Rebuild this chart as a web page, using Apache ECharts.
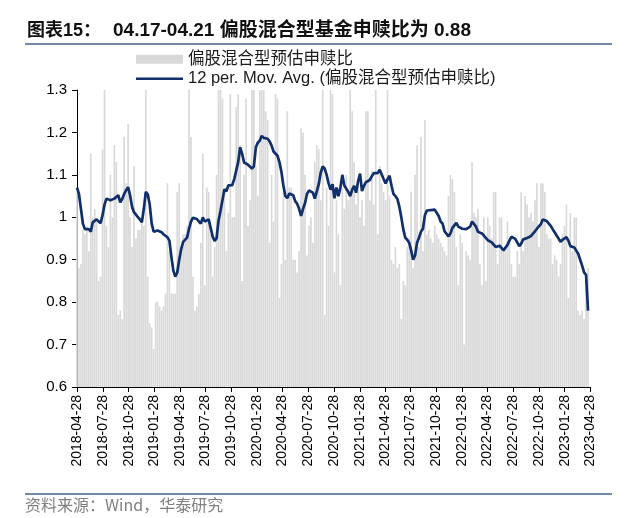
<!DOCTYPE html>
<html>
<head>
<meta charset="utf-8">
<script src="https://cdn.jsdelivr.net/npm/echarts@6/dist/echarts.min.js"></script>
<style>
html, body { margin: 0; padding: 0; background: #fff; }
#chart { width: 640px; height: 518px; }
</style>
</head>
<body>
<div id="chart"></div>
<script>
// 周度数据，2018-04-27 起每周五一个点
var firstWeek = [2018, 3, 27];
var weekCount = 261;

var tickLabels = ['2018-04-28', '2018-07-28', '2018-10-28', '2019-01-28', '2019-04-28', '2019-07-28',
	'2019-10-28', '2020-01-28', '2020-04-28', '2020-07-28', '2020-10-28', '2021-01-28', '2021-04-28',
	'2021-07-28', '2021-10-28', '2022-01-28', '2022-04-28', '2022-07-28', '2022-10-28', '2023-01-28',
	'2023-04-28'];

// 偏股混合型预估申赎比（柱）
var ratioValues = [
	1.06, 0.88, 0.89, 0.97, 0.96, 0.98, 0.92, 1.15, 1.00, 1.02,
	0.99, 0.85, 0.86, 1.16, 1.30, 0.98, 0.93, 1.10, 1.00, 1.17,
	1.13, 0.77, 0.78, 0.76, 1.19, 1.08, 1.22, 1.00, 0.93, 1.12,
	0.95, 0.97, 0.97, 1.00, 0.98, 1.30, 0.86, 0.75, 0.74, 0.69,
	0.80, 0.80, 0.79, 0.78, 0.79, 0.82, 1.08, 0.92, 0.82, 0.82,
	0.82, 1.06, 1.08, 0.93, 0.96, 0.96, 0.98, 1.30, 1.19, 0.86,
	0.78, 0.79, 0.82, 0.94, 1.15, 0.84, 1.07, 1.06, 0.96, 0.86,
	0.93, 1.10, 1.30, 1.30, 1.28, 1.06, 0.92, 1.01, 1.29, 1.00,
	1.00, 1.26, 1.29, 1.17, 0.85, 1.10, 1.28, 0.98, 1.04, 1.30,
	1.30, 1.12, 1.05, 1.30, 1.30, 1.30, 1.25, 1.23, 0.94, 1.10,
	0.99, 1.29, 1.28, 0.81, 0.89, 1.06, 0.90, 1.25, 1.07, 1.07,
	0.90, 0.90, 0.87, 0.92, 1.21, 1.20, 1.10, 0.91, 0.98, 1.00,
	0.94, 1.13, 1.17, 1.16, 1.04, 1.30, 0.77, 1.07, 0.98, 1.30,
	1.29, 0.87, 1.04, 0.96, 0.84, 1.07, 1.02, 1.10, 1.04, 1.30,
	1.25, 1.13, 1.03, 1.08, 1.00, 1.04, 0.98, 1.25, 1.25, 1.04,
	1.11, 1.03, 1.30, 0.96, 1.12, 1.08, 1.06, 1.04, 1.30, 1.05,
	0.90, 0.89, 0.93, 0.88, 0.89, 0.76, 0.85, 0.84, 0.93, 0.95,
	1.06, 0.88, 1.10, 1.17, 0.93, 1.19, 0.92, 1.23, 0.96, 0.97,
	0.95, 0.94, 0.98, 0.96, 0.95, 0.94, 0.93, 0.92, 0.91, 1.05,
	1.10, 1.09, 1.06, 0.93, 0.84, 0.96, 0.94, 0.70, 0.92, 0.91,
	0.90, 1.13, 1.01, 1.00, 1.02, 0.89, 0.84, 1.00, 0.85, 1.00,
	0.98, 0.95, 1.06, 1.06, 0.89, 1.00, 1.00, 0.92, 0.92, 0.99,
	0.94, 0.89, 0.86, 0.86, 0.92, 0.89, 1.06, 0.92, 1.05, 1.03,
	1.00, 1.01, 0.99, 1.04, 1.08, 0.93, 1.08, 1.08, 1.06, 0.96,
	0.95, 0.95, 0.89, 0.91, 0.90, 0.86, 0.89, 0.96, 0.98, 1.03,
	0.81, 1.01, 0.92, 1.00, 1.00, 0.78, 0.77, 0.78, 0.76, 0.86,
	0.88
];

// 12 per. Mov. Avg.（线，按图读数）
var avgValues = [
	1.070, 1.055, 1.020, 0.985, 0.972, 0.968, 0.972, 0.966, 0.988, 0.992,
	0.995, 0.996, 0.986, 1.005, 1.030, 1.044, 1.043, 1.040, 1.038, 1.044,
	1.040, 1.052, 1.035, 1.043, 1.055, 1.064, 1.071, 1.052, 1.025, 1.012,
	1.008, 1.000, 0.995, 0.988, 1.020, 1.060, 1.054, 1.030, 0.985, 0.966,
	0.968, 0.969, 0.967, 0.965, 0.960, 0.956, 0.953, 0.945, 0.908, 0.875,
	0.860, 0.870, 0.900, 0.925, 0.942, 0.944, 0.952, 0.973, 0.990, 0.999,
	0.997, 0.996, 0.990, 0.985, 1.000, 0.990, 0.994, 0.995, 0.975, 0.955,
	0.944, 0.950, 0.992, 1.015, 1.040, 1.066, 1.061, 1.075, 1.078, 1.076,
	1.090, 1.110, 1.130, 1.165, 1.150, 1.129, 1.127, 1.124, 1.121, 1.115,
	1.120, 1.165, 1.176, 1.181, 1.192, 1.187, 1.186, 1.185, 1.179, 1.169,
	1.155, 1.153, 1.145, 1.130, 1.107, 1.075, 1.050, 1.045, 1.056, 1.059,
	1.052, 1.038, 1.032, 1.020, 1.003, 1.020, 1.033, 1.055, 1.063, 1.060,
	1.058, 1.044, 1.045, 1.078, 1.105, 1.120, 1.115, 1.100, 1.080, 1.065,
	1.078, 1.045, 1.070, 1.050, 1.070, 1.100, 1.075, 1.071, 1.060, 1.050,
	1.065, 1.074, 1.058, 1.085, 1.103, 1.062, 1.074, 1.083, 1.087, 1.088,
	1.097, 1.104, 1.107, 1.104, 1.112, 1.108, 1.090, 1.080, 1.090, 1.098,
	1.075, 1.055, 1.050, 1.043, 1.025, 1.000, 0.972, 0.952, 0.947, 0.940,
	0.922, 0.900, 0.910, 0.940, 0.952, 0.966, 0.973, 1.005, 1.016, 1.018,
	1.017, 1.016, 1.018, 1.014, 1.003, 0.990, 0.985, 0.967, 0.963, 0.955,
	0.962, 0.975, 0.978, 0.987, 0.978, 0.975, 0.973, 0.972, 0.972, 0.973,
	0.978, 0.990, 0.990, 0.978, 0.966, 0.966, 0.962, 0.957, 0.953, 0.946,
	0.942, 0.941, 0.941, 0.930, 0.928, 0.933, 0.928, 0.922, 0.924, 0.935,
	0.945, 0.954, 0.952, 0.949, 0.946, 0.932, 0.938, 0.948, 0.945, 0.951,
	0.953, 0.956, 0.959, 0.967, 0.973, 0.976, 0.984, 0.995, 0.998, 0.991,
	0.990, 0.980, 0.972, 0.965, 0.957, 0.950, 0.942, 0.947, 0.951, 0.953,
	0.945, 0.932, 0.928, 0.929, 0.925, 0.914, 0.900, 0.886, 0.870, 0.864,
	0.780
];

function pad(n) {
	return n < 10 ? '0' + n : '' + n;
}
function parseDay(s) {
	var p = s.split('-');
	return new Date(+p[0], +p[1] - 1, +p[2]).getTime();
}
function fmtDay(t) {
	var d = new Date(t);
	return d.getFullYear() + '-' + pad(d.getMonth() + 1) + '-' + pad(d.getDate());
}

var weekDates = [];
for (var i = 0; i < weekCount; i++) {
	weekDates.push(new Date(firstWeek[0], firstWeek[1], firstWeek[2] + 7 * i).getTime());
}
var ratioData = [];
var avgData = [];
for (var i = 0; i < weekCount; i++) {
	ratioData.push([weekDates[i], ratioValues[i]]);
	avgData.push([weekDates[i], avgValues[i]]);
}
var tickValues = tickLabels.map(parseDay);

var textFont = 'Liberation Sans, Arial, Noto Sans CJK SC, sans-serif';
var chart = echarts.init(document.getElementById('chart'), null, { renderer: 'canvas' });
var option = {
	backgroundColor: '#fff',
	animation: false,
	legend: {
		orient: 'vertical',
		left: 131,
		top: 46,
		itemWidth: 47,
		itemHeight: 9,
		itemGap: 3,
		textStyle: {
			fontSize: 16.5,
			color: '#1a1a1a',
			fontFamily: textFont
		},
		data: [ {
			name: '偏股混合型预估申赎比',
			icon: 'rect'
		}, {
			name: '12 per. Mov. Avg. (偏股混合型预估申赎比)',
			icon: 'path://M0,0 L47,0 L47,2.7 L0,2.7 Z'
		} ]
	},
	grid: {
		left: 77,
		right: 50,
		top: 90,
		bottom: 131
	},
	xAxis: {
		type: 'value',
		min: weekDates[0],
		max: tickValues[tickValues.length - 1],
		axisLine: {
			onZero: false,
			lineStyle: { color: '#000', width: 1 }
		},
		axisTick: {
			customValues: tickValues,
			length: 5,
			lineStyle: { color: '#000' }
		},
		axisLabel: {
			customValues: tickValues,
			rotate: 90,
			margin: 8,
			fontSize: 14,
			color: '#000',
			fontFamily: textFont,
			formatter: function(v) {
				return fmtDay(v);
			}
		},
		splitLine: { show: false }
	},
	yAxis: {
		type: 'value',
		min: 0.6,
		max: 1.3,
		interval: 0.1,
		axisLine: {
			show: true,
			lineStyle: { color: '#000', width: 1 }
		},
		axisTick: {
			show: true,
			length: 5,
			lineStyle: { color: '#000' }
		},
		axisLabel: {
			margin: 10,
			fontSize: 15,
			color: '#000',
			fontFamily: textFont,
			formatter: function(v) {
				return String(Math.round(v * 10) / 10);
			}
		},
		splitLine: { show: false }
	},
	series: [ {
		name: '偏股混合型预估申赎比',
		type: 'bar',
		barWidth: 1.7,
		itemStyle: { color: '#d9d9d9' },
		data: ratioData
	}, {
		name: '12 per. Mov. Avg. (偏股混合型预估申赎比)',
		type: 'line',
		symbol: 'none',
		lineStyle: { color: '#112f6b', width: 2.7 },
		itemStyle: { color: '#112f6b' },
		data: avgData
	} ],
	graphic: [ {
		type: 'text',
		left: 27,
		top: 22,
		style: {
			text: '图表15：',
			font: 'bold 18px "Liberation Sans", "Noto Sans CJK SC", sans-serif',
			fill: '#111'
		}
	}, {
		type: 'text',
		left: 113,
		top: 21,
		style: {
			text: '04.17-04.21 偏股混合型基金申赎比为 0.88',
			font: 'bold 19px "Liberation Sans", "Noto Sans CJK SC", sans-serif',
			fill: '#111'
		}
	}, {
		type: 'line',
		shape: { x1: 25, y1: 44, x2: 612, y2: 44 },
		style: { stroke: '#7489aa', lineWidth: 2 }
	}, {
		type: 'line',
		shape: { x1: 25, y1: 494, x2: 612, y2: 494 },
		style: { stroke: '#7489aa', lineWidth: 2 }
	}, {
		type: 'text',
		left: 25,
		top: 497,
		style: {
			text: '资料来源：Wind，华泰研究',
			font: '16px "Noto Sans CJK SC", sans-serif',
			fill: '#808080'
		}
	} ]
};
chart.setOption(option);
</script>
</body>
</html>
